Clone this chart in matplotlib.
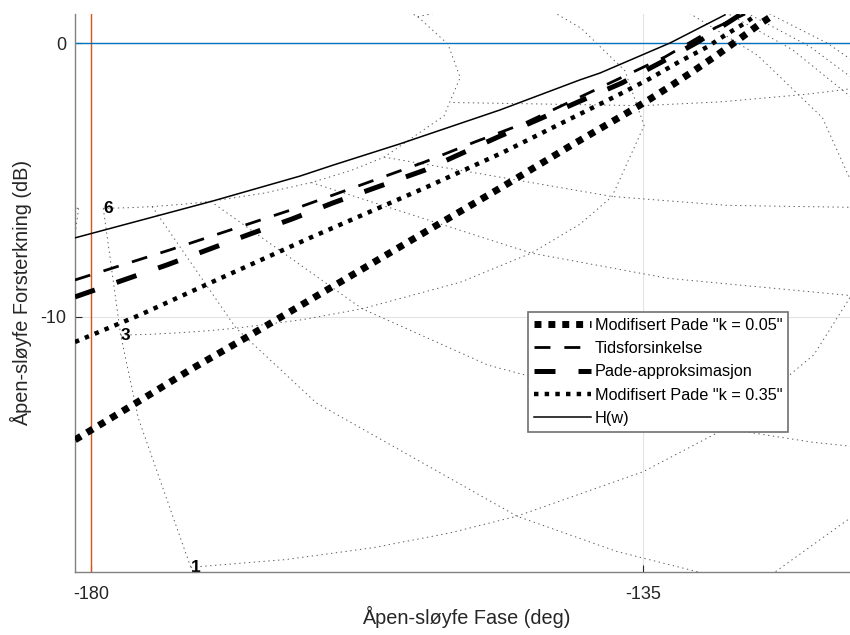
import numpy as np
import matplotlib
matplotlib.use("Agg")
import matplotlib.pyplot as plt

plt.rcParams['font.family'] = ['Liberation Sans', 'DejaVu Sans']

# open-loop phase (deg) and gain (dB) of the five responses
k005_phase = [-181.30, -176.58, -171.93, -167.29, -152.22, -146.51, -140.81, -138.28,
              -136.33, -134.45, -132.66, -130.79, -128.99, -127.28, -125.49, -124.51]
k005_gain = [-14.51, -13.23, -11.95, -10.75, -6.76, -5.26, -3.72, -3.06,
             -2.55, -2.04, -1.53, -0.98, -0.43, 0.12, 0.71, 1.00]

delay_phase = [-181.30, -173.56, -162.97, -152.79, -148.71, -144.64, -138.93, -133.23, -129.16, -126.71]
delay_gain = [-8.66, -7.56, -5.99, -4.34, -3.61, -2.92, -1.71, -0.50, 0.56, 1.07]

pade_phase = [-181.30, -173.81, -167.04, -163.62, -160.28, -156.86, -152.79, -150.10,
              -146.84, -143.25, -140.32, -136.73, -133.48, -130.54, -127.12]
pade_gain = [-9.28, -8.11, -6.98, -6.43, -5.84, -5.29, -4.64, -4.09,
             -3.43, -2.73, -2.15, -1.45, -0.68, 0.05, 1.04]

k035_phase = [-181.30, -176.01, -170.30, -162.16, -152.79, -146.51, -139.99,
              -136.90, -134.53, -132.09, -129.81, -128.18, -126.71, -125.90]
k035_gain = [-10.93, -9.94, -8.77, -7.12, -5.29, -4.01, -2.55,
             -1.86, -1.31, -0.68, -0.14, 0.34, 0.74, 1.00]

hw_phase = [-181.30, -170.06, -162.97, -160.28, -154.82, -146.67, -140.16, -138.53, -132.82, -128.34]
hw_gain = [-7.12, -5.77, -4.86, -4.46, -3.68, -2.44, -1.34, -1.09, 0.01, 1.04]

labels = ['Modifisert Pade "k = 0.05"', 'Tidsforsinkelse', 'Pade-approksimasjon',
          'Modifisert Pade "k = 0.35"', 'H(w)']

# Nichols chart: closed-loop gain contours (dB) sampled at closed-loop phases (deg)
m_db = [6, 3, 1, 0.5, 0.25, 0, -1, -3, -6, -12, -20]
m_phase = [1, 2, 3, 4, 5, 7.5, 10, 15, 20, 25, 30, 45, 60, 75, 90, 105, 120, 135, 150, 175, 180]
# closed-loop phase contours (deg) sampled at closed-loop gains (dB)
n_phase = [1, 5, 10, 20, 30, 50, 90, 120, 150, 180]
n_db = [6, 3, 2, 1, .75, .5, .4, .3, .25, .2, .15, .1, .05, 0, -.05, -.1, -.15, -.2, -.25, -.3,
        -.4, -.5, -.75, -1, -2, -3, -4, -5, -6, -9, -12, -16, -20, -30, -40]

xlim = (-181.30, -117.59)
ylim = (-19.345, 1.07)


def open_loop(mag_db, ph_deg):
    T = 10 ** (np.asarray(mag_db, float) / 20) * np.exp(-1j * np.radians(ph_deg))
    G = T / (1 - T)
    ph = np.degrees(np.angle(G))
    ph = np.where(ph > 0, ph - 360, ph)
    return ph, -20 * np.log10(np.abs(G))


fig = plt.figure(figsize=(8.5, 6.35), dpi=100)
ax = fig.add_axes([75 / 850, 63 / 635, 782 / 850, 558 / 635])

grid_kw = dict(color='#5a5a5a', lw=0.7, ls=(0, (1.4, 3.6)), zorder=1)
full_m_phase = np.array(m_phase + [360 - p for p in m_phase[::-1][1:]])
for m in m_db:
    ph, g = open_loop(m, full_m_phase)
    ax.plot(ph, g, **grid_kw)
    # contour label at its first sample, only where it falls inside the view
    ph0, g0 = open_loop(m, 1.0)
    if xlim[0] < ph0 < xlim[1] and ylim[0] < g0 < ylim[1]:
        ax.text(float(ph0), float(g0), f'{m:g}', fontsize=12.5, fontweight='bold',
                ha='left', va='center', zorder=2)
for a in n_phase + [360 - p for p in n_phase[::-1][1:]]:
    ph, g = open_loop(np.array(n_db), a)
    ax.plot(ph, g, **grid_kw)

ax.axvline(-180, color='#D95319', lw=1.0, zorder=2)
ax.axhline(0, color='#0072BD', lw=1.0, zorder=2)

h1, = ax.plot(k005_phase, k005_gain, color='k', lw=5, ls=(0, (1, 1)), zorder=3)
h2, = ax.plot(delay_phase, delay_gain, color='k', lw=2, ls=(0, (5.75, 5)), zorder=3)
h3, = ax.plot(pade_phase, pade_gain, color='k', lw=3.6, ls=(0, (4.2, 4.6)), zorder=3)
h4, = ax.plot(k035_phase, k035_gain, color='k', lw=3.2, ls=(0, (1, 1.4)), zorder=3)
h5, = ax.plot(hw_phase, hw_gain, color='k', lw=1.1, zorder=3)

ax.set_xlim(*xlim)
ax.set_ylim(*ylim)
ax.set_xticks([-180, -135])
ax.set_xticklabels(['-180', '-135'])
ax.set_yticks([-10, 0])
ax.set_yticklabels(['-10', '0'])
ax.grid(True, color='#e3e3e3', lw=0.8, zorder=0)
ax.set_axisbelow(True)
for s in ['top', 'right']:
    ax.spines[s].set_visible(False)
for s in ['left', 'bottom']:
    ax.spines[s].set_color('#808080')
    ax.spines[s].set_linewidth(1.0)
ax.tick_params(direction='in', length=5, width=0.8, colors='#262626', labelsize=13)
ax.tick_params(axis='x', pad=10)
ax.tick_params(axis='y', pad=6)

ax.set_xlabel('Åpen-sløyfe Fase (deg)', fontsize=14.3, color='#262626', labelpad=2)
ax.set_ylabel('Åpen-sløyfe Forsterkning (dB)', fontsize=14.3, color='#262626', labelpad=6)

leg = ax.legend([h1, h2, h3, h4, h5], labels, loc='upper left',
                bbox_to_anchor=(528 / 850, 1 - 312 / 635), bbox_transform=fig.transFigure,
                borderaxespad=0, fontsize=11.7, handlelength=3.5, handletextpad=0.25,
                labelspacing=0.51, borderpad=0.35, fancybox=False, framealpha=1)
leg.get_frame().set_edgecolor('#707070')
leg.get_frame().set_linewidth(1.2)

fig.savefig('out.png', dpi=100)
